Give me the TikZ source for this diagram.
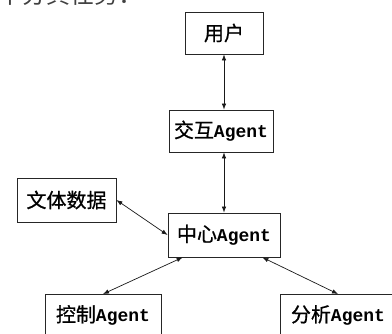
\documentclass[tikz,border=0pt]{standalone}
\usepackage{fontspec}
\newfontfamily\cjk[FakeBold=0.8]{Noto Sans CJK SC}
\newfontfamily\cjkt{Noto Sans CJK SC}
\newfontfamily\monof{Liberation Mono}
\usetikzlibrary{arrows.meta}
\tikzset{
  box/.style={draw=black!85, line width=0.8pt, inner sep=0pt, font=\cjk\fontsize{20}{22}\selectfont},
  link/.style={line width=0.7pt, black!90, {Latex[length=6pt,width=4.5pt]}-{Latex[length=6pt,width=4.5pt]}}
}
\newcommand{\ag}{{\monof\bfseries\fontsize{18}{20}\selectfont Agent}}
\begin{document}
\begin{tikzpicture}[x=1pt,y=-1pt]
\useasboundingbox (0,0) rectangle (392,334);
\clip (0,0) rectangle (392,334);
\fill[white] (0,0) rectangle (392,334);
\node[anchor=base west, text=black!75, font=\cjkt\fontsize{24}{28}\selectfont, inner sep=0pt] (top) at (-2,4) {中分其任务：};
\node[box, minimum width=78pt, minimum height=42pt] (yh) at (224,33) {用户};
\node[box, minimum width=104pt, minimum height=42pt] (jh) at (221,131) {交互\ag};
\node[box, minimum width=99pt, minimum height=44pt] (wt) at (66.5,200) {文体数据};
\node[box, minimum width=112pt, minimum height=44pt] (zx) at (224,235) {中心\ag};
\node[box, minimum width=116pt, minimum height=42pt, anchor=north] (kz) at (103,294) {控制\ag};
\node[box, minimum width=116pt, minimum height=42pt, anchor=north] (fx) at (338,294) {分析\ag};
\draw[link] (yh.south) -- (yh.south |- jh.north);
\draw[link] (zx.north) -- (zx.north |- jh.south);
\draw[link] (wt.east) -- (zx.west);
\draw[link] ([xshift=15pt]zx.south west) -- (kz.north);
\draw[link] ([xshift=-18pt]zx.south east) -- (fx.north);
\end{tikzpicture}
\end{document}
